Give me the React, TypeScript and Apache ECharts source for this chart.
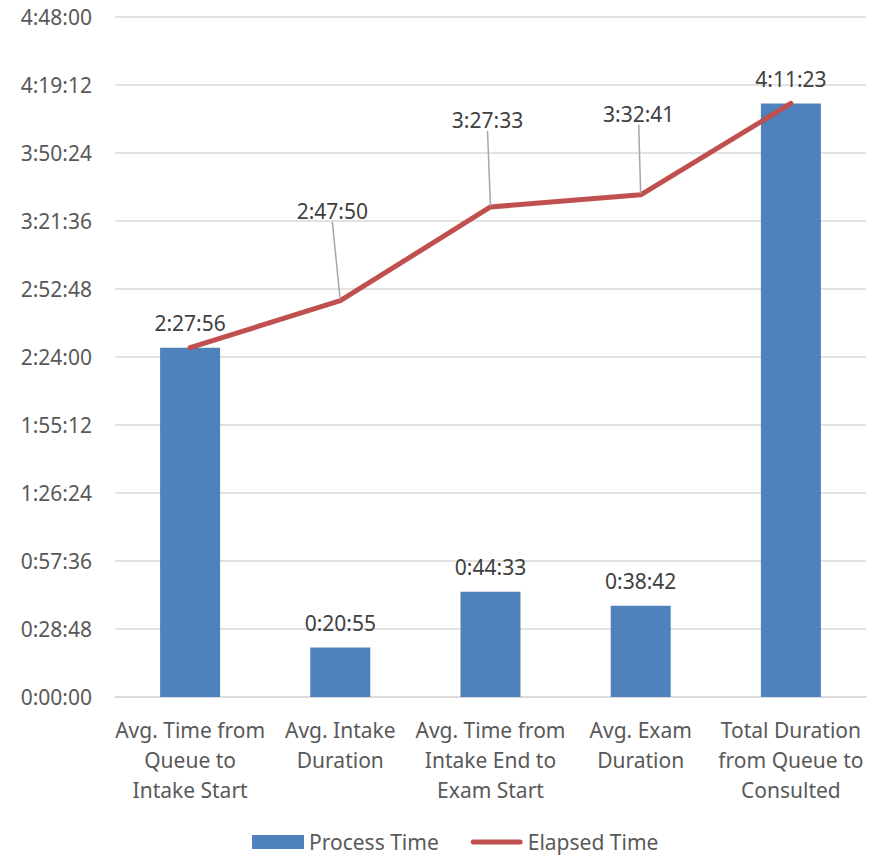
import React, { useEffect, useRef } from "react";
import * as echarts from "echarts";

// Clinic flow: time spent in each step and running elapsed time
const categories = [
  "Avg. Time from\nQueue to\nIntake Start",
  "Avg. Intake\nDuration",
  "Avg. Time from\nIntake End to\nExam Start",
  "Avg. Exam\nDuration",
  "Total Duration\nfrom Queue to\nConsulted",
];
const processTime = ["2:27:56", "0:20:55", "0:44:33", "0:38:42", "4:11:23"];
const elapsedTime = ["2:27:56", "2:47:50", "3:27:33", "3:32:41", "4:11:23"];
const axisMax = "4:48:00";
const axisStep = "0:28:48";

const toSeconds = (t: string) => {
  const [h, m, s] = t.split(":").map(Number);
  return h * 3600 + m * 60 + s;
};
const toClock = (v: number) => {
  const sec = Math.round(v);
  const h = Math.floor(sec / 3600);
  const m = Math.floor((sec % 3600) / 60);
  const s = sec % 60;
  return `${h}:${String(m).padStart(2, "0")}:${String(s).padStart(2, "0")}`;
};

const FONT = "Noto Sans";
// label nudges for the elapsed-time callouts (index -> [dx, dy])
const calloutShift: Record<number, [number, number]> = {
  1: [-8, -67],
  2: [-3, -64],
  3: [-2, -58],
};
// rounded bar used as the line's legend marker
const lineIcon =
  "path://M2.5,0 H49.5 A2.5,2.5 0 0 1 49.5,5 H2.5 A2.5,2.5 0 0 1 2.5,0 Z";

export default function App() {
  const ref = useRef<HTMLDivElement>(null);

  useEffect(() => {
    if (!ref.current) return;
    const chart = echarts.init(ref.current, undefined, { renderer: "svg" });
    const lastIdx = elapsedTime.length - 1;
    chart.setOption({
      animation: false,
      backgroundColor: "#ffffff",
      textStyle: { fontFamily: FONT },
      grid: { left: 115, right: 16, top: 17, bottom: 158, containLabel: false },
      legend: {
        top: 825,
        left: 247,
        itemWidth: 52,
        itemHeight: 14,
        itemGap: 32,
        textStyle: { fontFamily: FONT, fontSize: 21, lineHeight: 24, color: "#595959" },
        data: [
          { name: "Process Time", icon: "rect" },
          { name: "Elapsed Time", icon: lineIcon },
        ],
      },
      xAxis: {
        type: "category",
        data: categories,
        axisTick: { show: false },
        axisLine: { lineStyle: { color: "#D9D9D9", width: 1.5 } },
        axisLabel: {
          interval: 0,
          margin: 18,
          fontFamily: FONT,
          fontSize: 21,
          lineHeight: 30,
          color: "#595959",
        },
      },
      yAxis: {
        type: "value",
        min: 0,
        max: toSeconds(axisMax),
        interval: toSeconds(axisStep),
        axisLine: { show: false },
        axisTick: { show: false },
        splitLine: { lineStyle: { color: "#D9D9D9", width: 1.5 } },
        axisLabel: {
          margin: 23,
          fontFamily: FONT,
          fontSize: 21,
          color: "#595959",
          formatter: (v: number) => toClock(v),
        },
      },
      series: [
        {
          name: "Process Time",
          type: "bar",
          barWidth: 60,
          itemStyle: { color: "#4F81BD" },
          data: processTime.map(toSeconds),
          label: {
            show: true,
            position: "top",
            distance: 14,
            fontFamily: FONT,
            fontSize: 21,
            color: "#404040",
            formatter: (p: any) => toClock(p.value),
          },
          z: 2,
        },
        {
          name: "Elapsed Time",
          type: "line",
          symbol: "circle",
          symbolSize: 2,
          showSymbol: true,
          itemStyle: { color: "#C0504D" },
          lineStyle: { color: "#C0504D", width: 5, cap: "round", join: "round" },
          data: elapsedTime.map((t, i) => ({
            value: toSeconds(t),
            label: { show: i !== 0 && i !== lastIdx },
          })),
          label: {
            show: true,
            position: "top",
            distance: 5,
            padding: [0, 0, 6, 0],
            fontFamily: FONT,
            fontSize: 21,
            color: "#404040",
            formatter: (p: any) => toClock(p.value),
          },
          labelLine: {
            show: true,
            lineStyle: { color: "#A6A6A6", width: 1.5 },
          },
          labelLayout: (p: any) => {
            const s = calloutShift[p.dataIndex];
            return s ? { dx: s[0], dy: s[1] } : {};
          },
          z: 3,
        },
      ],
    });
    return () => chart.dispose();
  }, []);

  return (
    <div
      ref={ref}
      style={{ position: "absolute", left: 0, top: 0, width: 882, height: 855 }}
    />
  );
}
